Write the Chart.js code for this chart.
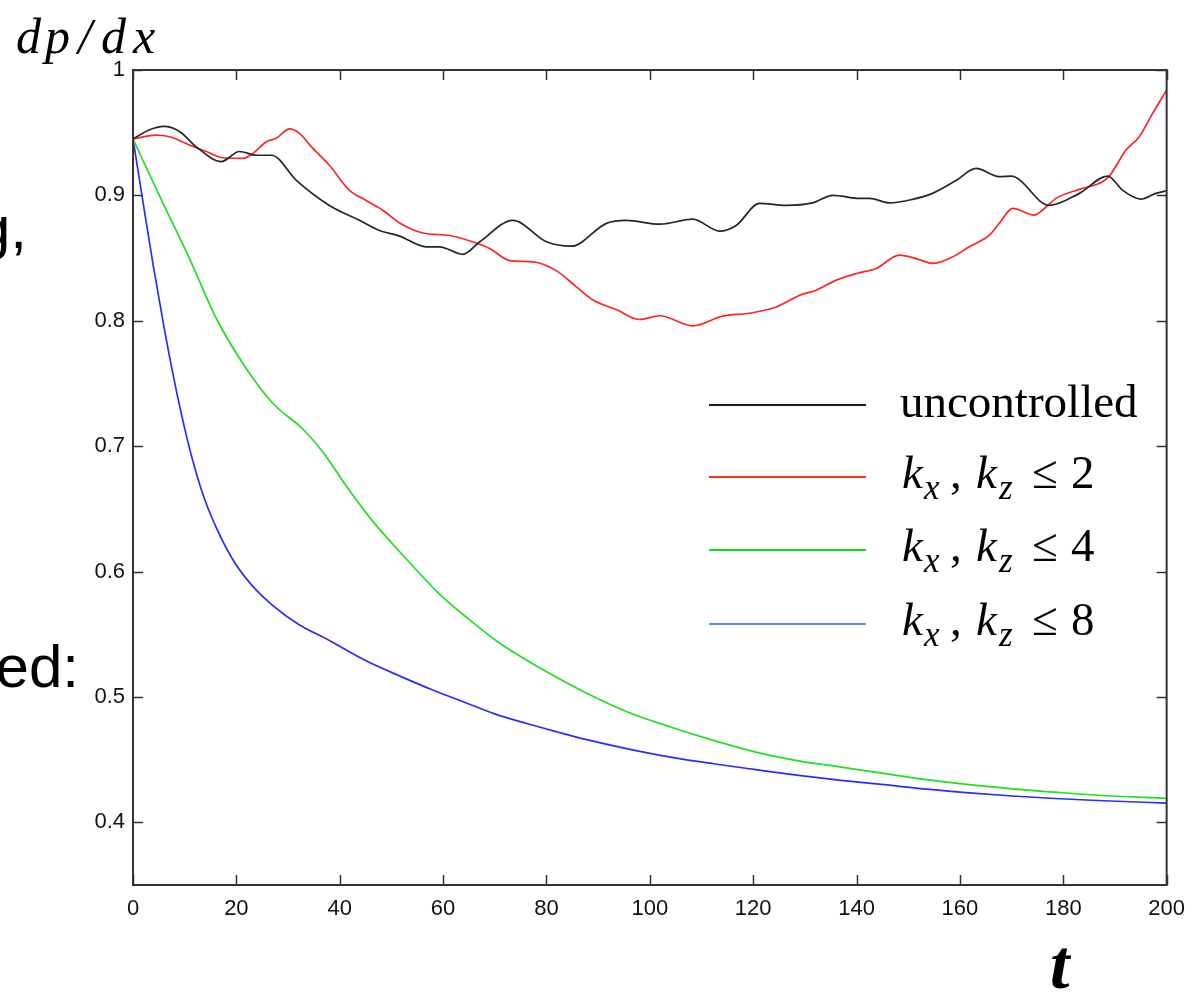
<!DOCTYPE html>
<html>
<head>
<meta charset="utf-8">
<script src="https://cdn.jsdelivr.net/npm/chart.js@4/dist/chart.umd.min.js"></script>
<style>
  html, body { margin: 0; padding: 0; background: #fff; }
  #wrap { width: 1196px; height: 996px; }
</style>
</head>
<body>
<div id="wrap"><canvas id="dpdx" width="1196" height="996"></canvas></div>
<script>
// uncontrolled run
const tUnc = [0, 3, 6, 9, 12.3, 17.1, 20.6, 23.9, 26.8, 31.6, 38, 43.9, 47.7, 51.6, 56.7, 59.3, 63.8, 67.1,
  73.5, 80, 84.8, 91.6, 95.4, 101.9, 108.3, 113.5, 116.7, 121.2, 126.4, 131.5, 135.4, 140.6, 142.5, 146.4,
  151, 154.7, 159.3, 163.1, 167.6, 169.9, 177.3, 183.1, 188.6, 191.5, 195, 197.9, 200];
const pUnc = [0.945, 0.952, 0.955, 0.951, 0.9385, 0.927, 0.935, 0.932, 0.932, 0.912, 0.892, 0.880, 0.872, 0.8675,
  0.859, 0.859, 0.853, 0.863, 0.880, 0.863, 0.8595, 0.8777, 0.880, 0.877, 0.881, 0.8715, 0.876, 0.8936, 0.892,
  0.894, 0.900, 0.8976, 0.8976, 0.894, 0.897, 0.9016, 0.912, 0.9215, 0.915, 0.9154, 0.892, 0.9016, 0.9154,
  0.904, 0.897, 0.9016, 0.9037];

// control on kx, kz <= 2
const tK2 = [0, 4.5, 7.1, 11, 14.2, 17.4, 21.3, 23.2, 25.8, 27.7, 30.3, 32.2, 34.8, 38, 41.9, 45.1, 48.4, 51.6,
  56.1, 61.3, 66.4, 69, 72.9, 77.4, 81.9, 85.8, 89, 93.5, 98, 101.9, 108.3, 114.1, 119.3, 124.5, 129, 132.2,
  136.1, 140, 143.8, 148.3, 152, 154.7, 158.6, 161.8, 165.7, 167.6, 170.2, 174.4, 176, 178.6, 183.1, 187.6,
  188.9, 192.1, 194.7, 197.3, 200];
const pK2 = [0.945, 0.948, 0.9468, 0.940, 0.935, 0.930, 0.9295, 0.9335, 0.9428, 0.9455, 0.953, 0.9495, 0.9375,
  0.924, 0.904, 0.896, 0.888, 0.878, 0.870, 0.868, 0.862, 0.8577, 0.848, 0.847, 0.840, 0.827, 0.8165, 0.809,
  0.801, 0.804, 0.796, 0.8037, 0.806, 0.811, 0.8204, 0.8244, 0.8324, 0.8377, 0.8417, 0.8524, 0.849, 0.8457,
  0.851, 0.859, 0.8683, 0.8776, 0.8896, 0.8843, 0.8883, 0.8976, 0.9048, 0.9109, 0.9154, 0.936, 0.9468,
  0.9654, 0.984];

// control on kx, kz <= 4
const tK4 = [0, 5.2, 11, 16.1, 21.9, 27.1, 32.9, 36.8, 41.3, 46.4, 52.9, 59.3, 67.1, 70.9, 79.2, 87.5, 95.7,
  104, 112.3, 120.5, 128.8, 137, 145.3, 153.6, 161.8, 170.1, 178.4, 186.6, 200];
const pK4 = [0.945, 0.899, 0.849, 0.802, 0.762, 0.734, 0.7135, 0.695, 0.668, 0.640, 0.610, 0.582, 0.555, 0.543,
  0.522, 0.5035, 0.488, 0.476, 0.4653, 0.456, 0.449, 0.444, 0.439, 0.434, 0.430, 0.4267, 0.424, 0.4216, 0.419];

// control on kx, kz <= 8
const tK8 = [0, 2, 4, 6, 8, 10, 12, 14, 16, 18, 20, 23, 27, 32, 38, 45, 52, 58, 64, 70, 76, 82, 88, 95.7,
  104, 112.3, 120.5, 128.8, 137, 145.3, 153.6, 161.8, 170.1, 178.4, 186.6, 200];
const pK8 = [0.945, 0.893, 0.842, 0.795, 0.752, 0.714, 0.682, 0.656, 0.636, 0.619, 0.605, 0.589, 0.573, 0.558,
  0.545, 0.529, 0.516, 0.5055, 0.496, 0.4865, 0.479, 0.4722, 0.4657, 0.4586, 0.452, 0.4467, 0.442, 0.4374,
  0.4334, 0.430, 0.4264, 0.4235, 0.421, 0.419, 0.4174, 0.4153];

const xTicks = [0, 20, 40, 60, 80, 100, 120, 140, 160, 180, 200];
const yTicks = [0.4, 0.5, 0.6, 0.7, 0.8, 0.9, 1];
const kLimits = [2, 4, 8];

const lineColors   = ['#262626', '#ff2424', '#1ee01e', '#2b2bff'];
const legendColors = ['#1a1a1a', '#ff3218', '#10dd10', '#5a8cff'];

const toPts = (ts, ps) => ts.map((t, i) => ({ x: t, y: ps[i] }));

// frame with inward ticks on all four sides
const framePlugin = {
  id: 'frame',
  afterDatasetsDraw(chart) {
    const { ctx, chartArea: a, scales: { x, y } } = chart;
    ctx.save();
    ctx.strokeStyle = '#333';
    ctx.lineWidth = 2;
    ctx.strokeRect(a.left, a.top, a.right - a.left, a.bottom - a.top);
    ctx.lineWidth = 1.5;
    ctx.beginPath();
    xTicks.forEach(v => {
      const px = Math.round(x.getPixelForValue(v)) + 0.5;
      ctx.moveTo(px, a.bottom); ctx.lineTo(px, a.bottom - 10);
      ctx.moveTo(px, a.top);    ctx.lineTo(px, a.top + 10);
    });
    yTicks.forEach(v => {
      const py = Math.round(y.getPixelForValue(v)) + 0.5;
      ctx.moveTo(a.left, py);  ctx.lineTo(a.left + 10, py);
      ctx.moveTo(a.right, py); ctx.lineTo(a.right - 10, py);
    });
    ctx.stroke();
    ctx.restore();
  }
};

// legend, axis titles and the clipped slide text around the plot
const textPlugin = {
  id: 'texts',
  afterDraw(chart) {
    const ctx = chart.ctx;
    ctx.save();
    ctx.fillStyle = '#000';
    ctx.textBaseline = 'alphabetic';

    // y title: dp/dx
    ctx.font = 'italic 50px "Liberation Serif"';
    [['d', 16], ['p', 45], ['/', 78], ['d', 101], ['x', 133]].forEach(([c, x]) => ctx.fillText(c, x, 53));

    // x title: t
    ctx.font = 'bold italic 70px "Liberation Serif"';
    ctx.fillText('t', 1050, 988);

    // cut-off slide text at the left edge
    ctx.font = '60px "Liberation Sans"';
    ctx.textAlign = 'right';
    ctx.fillText('g,', 27, 248);
    ctx.fillText('ed:', 79, 687);
    ctx.textAlign = 'left';

    // legend
    const rows = [405, 477, 550, 624];
    rows.forEach((ly, i) => {
      ctx.strokeStyle = legendColors[i];
      ctx.lineWidth = 2;
      ctx.beginPath();
      ctx.moveTo(709, ly); ctx.lineTo(866, ly);
      ctx.stroke();
    });
    ctx.font = '47px "Liberation Serif"';
    ctx.fillText('uncontrolled', 900, 417);
    kLimits.forEach((k, i) => {
      const by = rows[i + 1] + 11;
      ctx.font = 'italic 47px "Liberation Serif"';
      ctx.fillText('k', 902, by);
      ctx.fillText('k', 976, by);
      ctx.font = 'italic 35px "Liberation Serif"';
      ctx.fillText('x', 924, by + 11);
      ctx.fillText('z', 999, by + 11);
      ctx.font = '47px "Liberation Serif"';
      ctx.fillText(',', 950, by);
      ctx.fillText('\u2264', 1032, by);
      ctx.fillText(String(k), 1071, by);
    });
    ctx.restore();
  }
};

const datasets = [
  toPts(tUnc, pUnc), toPts(tK2, pK2), toPts(tK4, pK4), toPts(tK8, pK8)
].map((pts, i) => ({
  data: pts,
  borderColor: lineColors[i],
  borderWidth: 1.7,
  pointRadius: 0,
  cubicInterpolationMode: 'monotone',
  fill: false,
  clip: 2
}));

new Chart(document.getElementById('dpdx').getContext('2d'), {
  type: 'line',
  data: { datasets },
  options: {
    responsive: false,
    animation: false,
    layout: { padding: { left: 0, top: 70, right: 29, bottom: 0 } },
    plugins: { legend: { display: false }, tooltip: { enabled: false } },
    scales: {
      x: {
        type: 'linear', min: 0, max: 200,
        afterBuildTicks: s => { s.ticks = xTicks.map(v => ({ value: v })); },
        afterFit: s => { s.height = 111; },
        grid: { display: false, drawTicks: false },
        border: { display: false },
        ticks: {
          padding: 11, color: '#111', autoSkip: false, maxRotation: 0,
          font: { family: 'Liberation Sans', size: 22 },
          callback: v => String(v)
        }
      },
      y: {
        type: 'linear', min: 0.35, max: 1,
        afterBuildTicks: s => { s.ticks = yTicks.map(v => ({ value: v })); },
        afterFit: s => { s.width = 133; },
        grid: { display: false, drawTicks: false },
        border: { display: false },
        ticks: {
          padding: 8, color: '#111',
          font: { family: 'Liberation Sans', size: 22 },
          callback: v => String(Math.round(v * 10) / 10)
        }
      }
    }
  },
  plugins: [framePlugin, textPlugin]
});
</script>
</body>
</html>
